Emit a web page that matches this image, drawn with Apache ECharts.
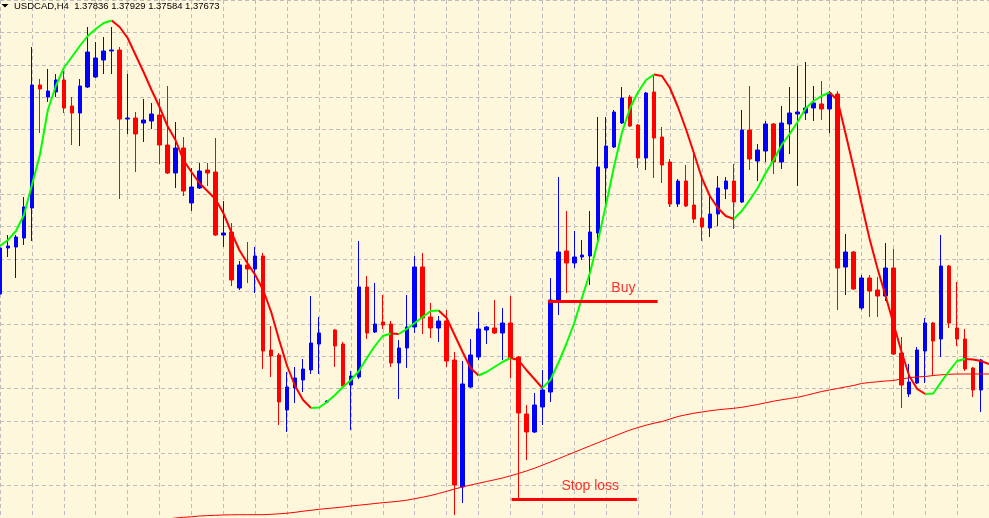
<!DOCTYPE html>
<html><head><meta charset="utf-8">
<script src="https://cdn.jsdelivr.net/npm/echarts@6/dist/echarts.min.js"></script>
<style>html,body{margin:0;padding:0;background:#FEF7DC;overflow:hidden}#c{width:989px;height:518px}</style>
</head><body><div id="c"></div>
<script>
const symbolTitle = 'USDCAD,H4';
const quote = ['1.37836', '1.37929', '1.37584', '1.37673'];

const opens = [1.3706,1.3752,1.3753,1.3762,1.3792,1.3915,1.3903,1.3908,1.3920,1.3894,
1.3887,1.3913,1.3923,1.3940,1.3949,1.3950,1.3881,1.3882,1.3877,1.3879,
1.3885,1.3855,1.3827,1.3852,1.3797,1.3812,1.3830,1.3828,1.3765,1.3768,
1.3712,1.3735,1.3731,1.3744,1.3650,1.3645,1.3590,1.3612,1.3620,1.3630,
1.3656,1.3598,1.3670,1.3656,1.3615,1.3623,1.3713,1.3668,1.3678,1.3676,
1.3637,1.3652,1.3673,1.3733,1.3683,1.3672,1.3679,1.3640,1.3513,1.3613,
1.3643,1.3670,1.3672,1.3667,1.3677,1.3643,1.3586,1.3568,1.3593,1.3608,
1.3700,1.3749,1.3737,1.3743,1.3744,1.3767,1.3832,1.3853,1.3877,1.3903,
1.3875,1.3842,1.3908,1.3863,1.3838,1.3796,1.3819,1.3795,1.3782,1.3772,
1.3786,1.3811,1.3819,1.3798,1.3870,1.3839,1.3849,1.3876,1.3838,1.3876,
1.3886,1.3887,1.3892,1.3896,1.3891,1.3906,1.3733,1.3748,1.3692,1.3722,
1.3710,1.3704,1.3732,1.3647,1.3606,1.3617,1.3649,1.3677,1.3661,1.3734,
1.3672,1.3661,1.3632,1.3610];
const closes = [1.3752,1.3754,1.3763,1.3793,1.3915,1.3911,1.3909,1.3920,1.3892,1.3887,
1.3914,1.3948,1.3942,1.3949,1.3950,1.3881,1.3882,1.3866,1.3880,1.3886,
1.3855,1.3827,1.3852,1.3809,1.3813,1.3829,1.3827,1.3765,1.3767,1.3720,
1.3735,1.3731,1.3744,1.3649,1.3644,1.3598,1.3613,1.3622,1.3631,1.3657,
1.3667,1.3599,1.3654,1.3614,1.3624,1.3713,1.3667,1.3676,1.3675,1.3637,
1.3652,1.3673,1.3733,1.3682,1.3672,1.3679,1.3639,1.3515,1.3616,1.3645,
1.3671,1.3673,1.3667,1.3677,1.3642,1.3587,1.3568,1.3595,1.3610,1.3700,
1.3748,1.3737,1.3743,1.3745,1.3768,1.3833,1.3854,1.3888,1.3902,1.3874,
1.3842,1.3907,1.3862,1.3835,1.3796,1.3819,1.3794,1.3781,1.3773,1.3786,
1.3812,1.3819,1.3798,1.3870,1.3841,1.3850,1.3876,1.3838,1.3877,1.3887,
1.3888,1.3892,1.3897,1.3891,1.3907,1.3732,1.3748,1.3711,1.3722,1.3709,
1.3704,1.3732,1.3646,1.3615,1.3618,1.3650,1.3677,1.3659,1.3734,1.3677,
1.3661,1.3631,1.3610,1.3640];
const lows = [1.3705,1.3743,1.3722,1.3755,1.3759,1.3867,1.3898,1.3903,1.3887,1.3855,
1.3854,1.3912,1.3922,1.3926,1.3926,1.3801,1.3866,1.3828,1.3858,1.3871,
1.3836,1.3826,1.3812,1.3804,1.3789,1.3811,1.3814,1.3764,1.3753,1.3714,
1.3710,1.3717,1.3707,1.3631,1.3623,1.3575,1.3568,1.3597,1.3608,1.3626,
1.3626,1.35975,1.3633,1.3613,1.3570,1.3621,1.3661,1.3667,1.3671,1.3633,
1.3601,1.3632,1.3667,1.3666,1.3662,1.3658,1.3633,1.3485,1.3497,1.3612,
1.3640,1.3656,1.3666,1.3640,1.3622,1.3500,1.3540,1.3567,1.3575,1.3598,
1.3685,1.3707,1.3732,1.3740,1.3715,1.3758,1.3793,1.3852,1.3876,1.3873,
1.3832,1.3830,1.3822,1.3817,1.3793,1.3793,1.3793,1.3777,1.3759,1.3763,
1.3774,1.3801,1.3771,1.3797,1.3830,1.3819,1.3838,1.3826,1.3831,1.3846,
1.3814,1.3880,1.3879,1.3880,1.3867,1.3690,1.3705,1.3710,1.3690,1.3683,
1.3683,1.3699,1.3645,1.3592,1.3603,1.3616,1.3617,1.3624,1.3643,1.3672,
1.3654,1.3629,1.3603,1.3588];
const highs = [1.3753,1.3765,1.3765,1.3803,1.3953,1.3921,1.3931,1.3926,1.3929,1.3903,
1.3921,1.3973,1.3958,1.3963,1.3973,1.3953,1.3926,1.3888,1.3901,1.3897,
1.3901,1.3914,1.3878,1.3863,1.3832,1.3837,1.3837,1.3862,1.3799,1.3777,
1.3739,1.3758,1.3753,1.3747,1.3674,1.3647,1.3628,1.3633,1.3641,1.3704,
1.3683,1.35995,1.3671,1.3658,1.3629,1.3759,1.3724,1.3717,1.3705,1.3679,
1.3660,1.3705,1.3744,1.3747,1.3697,1.3684,1.3690,1.3648,1.3639,1.3661,
1.3688,1.3674,1.3700,1.3692,1.3704,1.3644,1.3595,1.3607,1.3630,1.3722,
1.3823,1.3789,1.3769,1.3760,1.3789,1.3883,1.3883,1.3890,1.3913,1.3905,
1.3876,1.3908,1.3925,1.3873,1.3841,1.3821,1.3835,1.3850,1.3823,1.3806,
1.3824,1.3823,1.3836,1.3890,1.3914,1.3856,1.3879,1.3877,1.3894,1.3913,
1.3934,1.3938,1.3914,1.3919,1.3909,1.3909,1.3766,1.3749,1.3725,1.3725,
1.3723,1.3757,1.3751,1.3663,1.3636,1.3653,1.3682,1.3678,1.3765,1.3735,
1.3718,1.3671,1.3633,1.3641];

// smoothed trend MA (green rising / red falling)
const maTrend = [1.3754,1.3760,1.3769,1.3785,1.3815,1.3845,1.3890,1.3914,1.3932,1.3943,
1.3954,1.3964,1.3971,1.3977,1.39795,1.3973,1.3962,1.3945,1.3928,1.3910,
1.3893,1.3874,1.3860,1.3840,1.3828,1.3817,1.3809,1.3801,1.3787,1.3768,
1.3750,1.3737,1.3725,1.3710,1.3688,1.3660,1.3634,1.3614,1.3600,1.3592,
1.35925,1.3598,1.3605,1.3613,1.3620,1.3629,1.3642,1.3654,1.3664,1.36665,
1.3666,1.3671,1.3677,1.3683,1.3689,1.36895,1.3682,1.3665,1.3648,1.3632,
1.36245,1.3628,1.3633,1.3638,1.3642,1.3640,1.3630,1.3621,1.3612,1.3620,
1.3637,1.3656,1.3677,1.3703,1.3728,1.3760,1.3796,1.3834,1.3868,1.3892,
1.3908,1.3920,1.39255,1.3924,1.3912,1.3893,1.3871,1.3847,1.3822,1.3804,
1.3792,1.3784,1.3781,1.3789,1.3800,1.3812,1.3827,1.3840,1.3855,1.3866,
1.3878,1.38915,1.3899,1.3904,1.39075,1.3900,1.3867,1.3833,1.3797,1.3762,
1.3732,1.3705,1.3677,1.3649,1.3624,1.3611,1.3606,1.36065,1.3618,1.3629,
1.3639,1.3641,1.36405,1.3639,1.3636];

// long period MA (thin red)
const maLong = [null,null,null,null,null,null,null,null,null,null,
null,null,null,null,null,null,null,null,1.3479,1.34795,
1.3480,1.3481,1.3482,1.34827,1.34832,1.3484,1.34844,1.34847,1.3485,1.34852,
1.34853,1.34853,1.34853,1.34853,1.34857,1.34862,1.34868,1.34877,1.34888,1.34897,
1.34907,1.34915,1.34922,1.3493,1.3494,1.34948,1.34956,1.34965,1.34973,1.3498,
1.34988,1.34998,1.35013,1.35028,1.35045,1.35065,1.35087,1.3511,1.35131,1.3515,
1.35167,1.35185,1.35202,1.3522,1.35242,1.35265,1.3529,1.35317,1.35348,1.3538,
1.35412,1.35445,1.35477,1.3551,1.35542,1.35574,1.35606,1.35638,1.3567,1.3570,
1.35725,1.35748,1.35768,1.35784,1.3581,1.35835,1.35852,1.35868,1.3588,1.35892,
1.35902,1.3591,1.35917,1.35927,1.35941,1.35955,1.35972,1.35988,1.36002,1.36015,
1.36027,1.36045,1.36065,1.36085,1.3610,1.36115,1.3613,1.36145,1.36165,1.36175,
1.36182,1.3619,1.36195,1.3621,1.36222,1.36231,1.36235,1.36245,1.36252,1.36257,
1.3626,1.3626,1.3626,1.3626,1.3626];

// trade annotations: [startBar, endBar, price]
const buyLine = [68.7, 82.45, 1.36985];
const stopLine = [64.15, 79.85, 1.35005];
// labels: [bar, price, text]
const labels = [[76.65, 1.37115, 'Buy'], [70.4, 1.35137, 'Stop loss']];

const chart = echarts.init(document.getElementById('c'), null, {renderer: 'canvas'});

const candleData = opens.map((o, i) => [i, o, closes[i], lows[i], highs[i]]);

function trendRuns(values, rising) {
  const out = [];
  let open = false;
  for (let i = 0; i < values.length - 1; i++) {
    const a = values[i], b = values[i + 1];
    const up = b >= a;
    if (up === rising) {
      if (!open) { out.push([i, a]); open = true; }
      out.push([i + 1, b]);
    } else if (open) {
      out.push([i + 0.5, null]);
      open = false;
    }
  }
  return out;
}

const gridLine = {color: '#BDBDBD', type: [4, 3], width: 1};

const option = {
  animation: false,
  backgroundColor: '#FEF7DC',
  grid: [
    {left: -1.5, width: 992, top: 0, height: 518, show: false},
    {left: -1.5, width: 992, top: -3.57, height: 529.14, show: false}
  ],
  xAxis: [
    {type: 'value', gridIndex: 0, min: 0, max: 124, interval: 4,
     axisLine: {show: false}, axisTick: {show: false}, axisLabel: {show: false},
     splitLine: {show: true, lineStyle: gridLine}},
    {type: 'value', gridIndex: 1, min: 0, max: 1, show: false}
  ],
  yAxis: [
    {type: 'value', gridIndex: 0, min: 1.3482, max: 1.4000, scale: true,
     axisLine: {show: false}, axisTick: {show: false}, axisLabel: {show: false},
     splitLine: {show: false}},
    {type: 'value', gridIndex: 1, min: 0, max: 16, interval: 1,
     axisLine: {show: false}, axisTick: {show: false}, axisLabel: {show: false},
     splitLine: {show: true, lineStyle: gridLine}}
  ],
  series: [
    {
      type: 'candlestick', xAxisIndex: 0, yAxisIndex: 0,
      encode: {x: 0, y: [1, 2, 3, 4]},
      barWidth: 4,
      data: candleData,
      z: 2,
      itemStyle: {color: '#0000FF', color0: '#FF0000', borderColor: '#0000FF', borderColor0: '#FF0000', borderWidth: 1}
    },
    {
      type: 'line', xAxisIndex: 0, yAxisIndex: 0, z: 3,
      data: maLong.map((v, i) => [i, v]),
      showSymbol: false, symbol: 'none', connectNulls: false,
      lineStyle: {color: '#FF0000', width: 1}
    },
    {
      type: 'line', xAxisIndex: 0, yAxisIndex: 0, z: 4,
      data: trendRuns(maTrend, false),
      showSymbol: false, symbol: 'none', connectNulls: false,
      lineStyle: {color: '#FF0000', width: 2}
    },
    {
      type: 'line', xAxisIndex: 0, yAxisIndex: 0, z: 4,
      data: trendRuns(maTrend, true),
      showSymbol: false, symbol: 'none', connectNulls: false,
      lineStyle: {color: '#00FF00', width: 2}
    },
    {
      type: 'line', xAxisIndex: 0, yAxisIndex: 0, z: 5,
      data: [[buyLine[0], buyLine[2]], [buyLine[1], buyLine[2]]],
      showSymbol: false, symbol: 'none',
      lineStyle: {color: '#FF0000', width: 3, cap: 'butt'}
    },
    {
      type: 'line', xAxisIndex: 0, yAxisIndex: 0, z: 5,
      data: [[stopLine[0], stopLine[2]], [stopLine[1], stopLine[2]]],
      showSymbol: false, symbol: 'none',
      lineStyle: {color: '#FF0000', width: 3, cap: 'butt'}
    },
    {
      type: 'scatter', xAxisIndex: 0, yAxisIndex: 0, z: 6,
      symbolSize: 0,
      data: labels.map(l => ({value: [l[0], l[1]], label: {formatter: l[2]}})),
      label: {show: true, position: [0, 0], align: 'left', verticalAlign: 'middle',
              color: '#FF0000', fontSize: 14, fontFamily: 'Liberation Sans'}
    }
  ],
  graphic: [
    {type: 'polygon', shape: {points: [[1.5, 4], [8.5, 4], [5, 7.5]]}, style: {fill: '#000000'}, z: 10},
    {type: 'text', x: 14, y: 1, z: 10,
     style: {text: symbolTitle + '  ' + quote.join(' '), font: '9.5px "Liberation Sans"', fill: '#000000'}}
  ]
};
chart.setOption(option);
</script>
</body></html>
